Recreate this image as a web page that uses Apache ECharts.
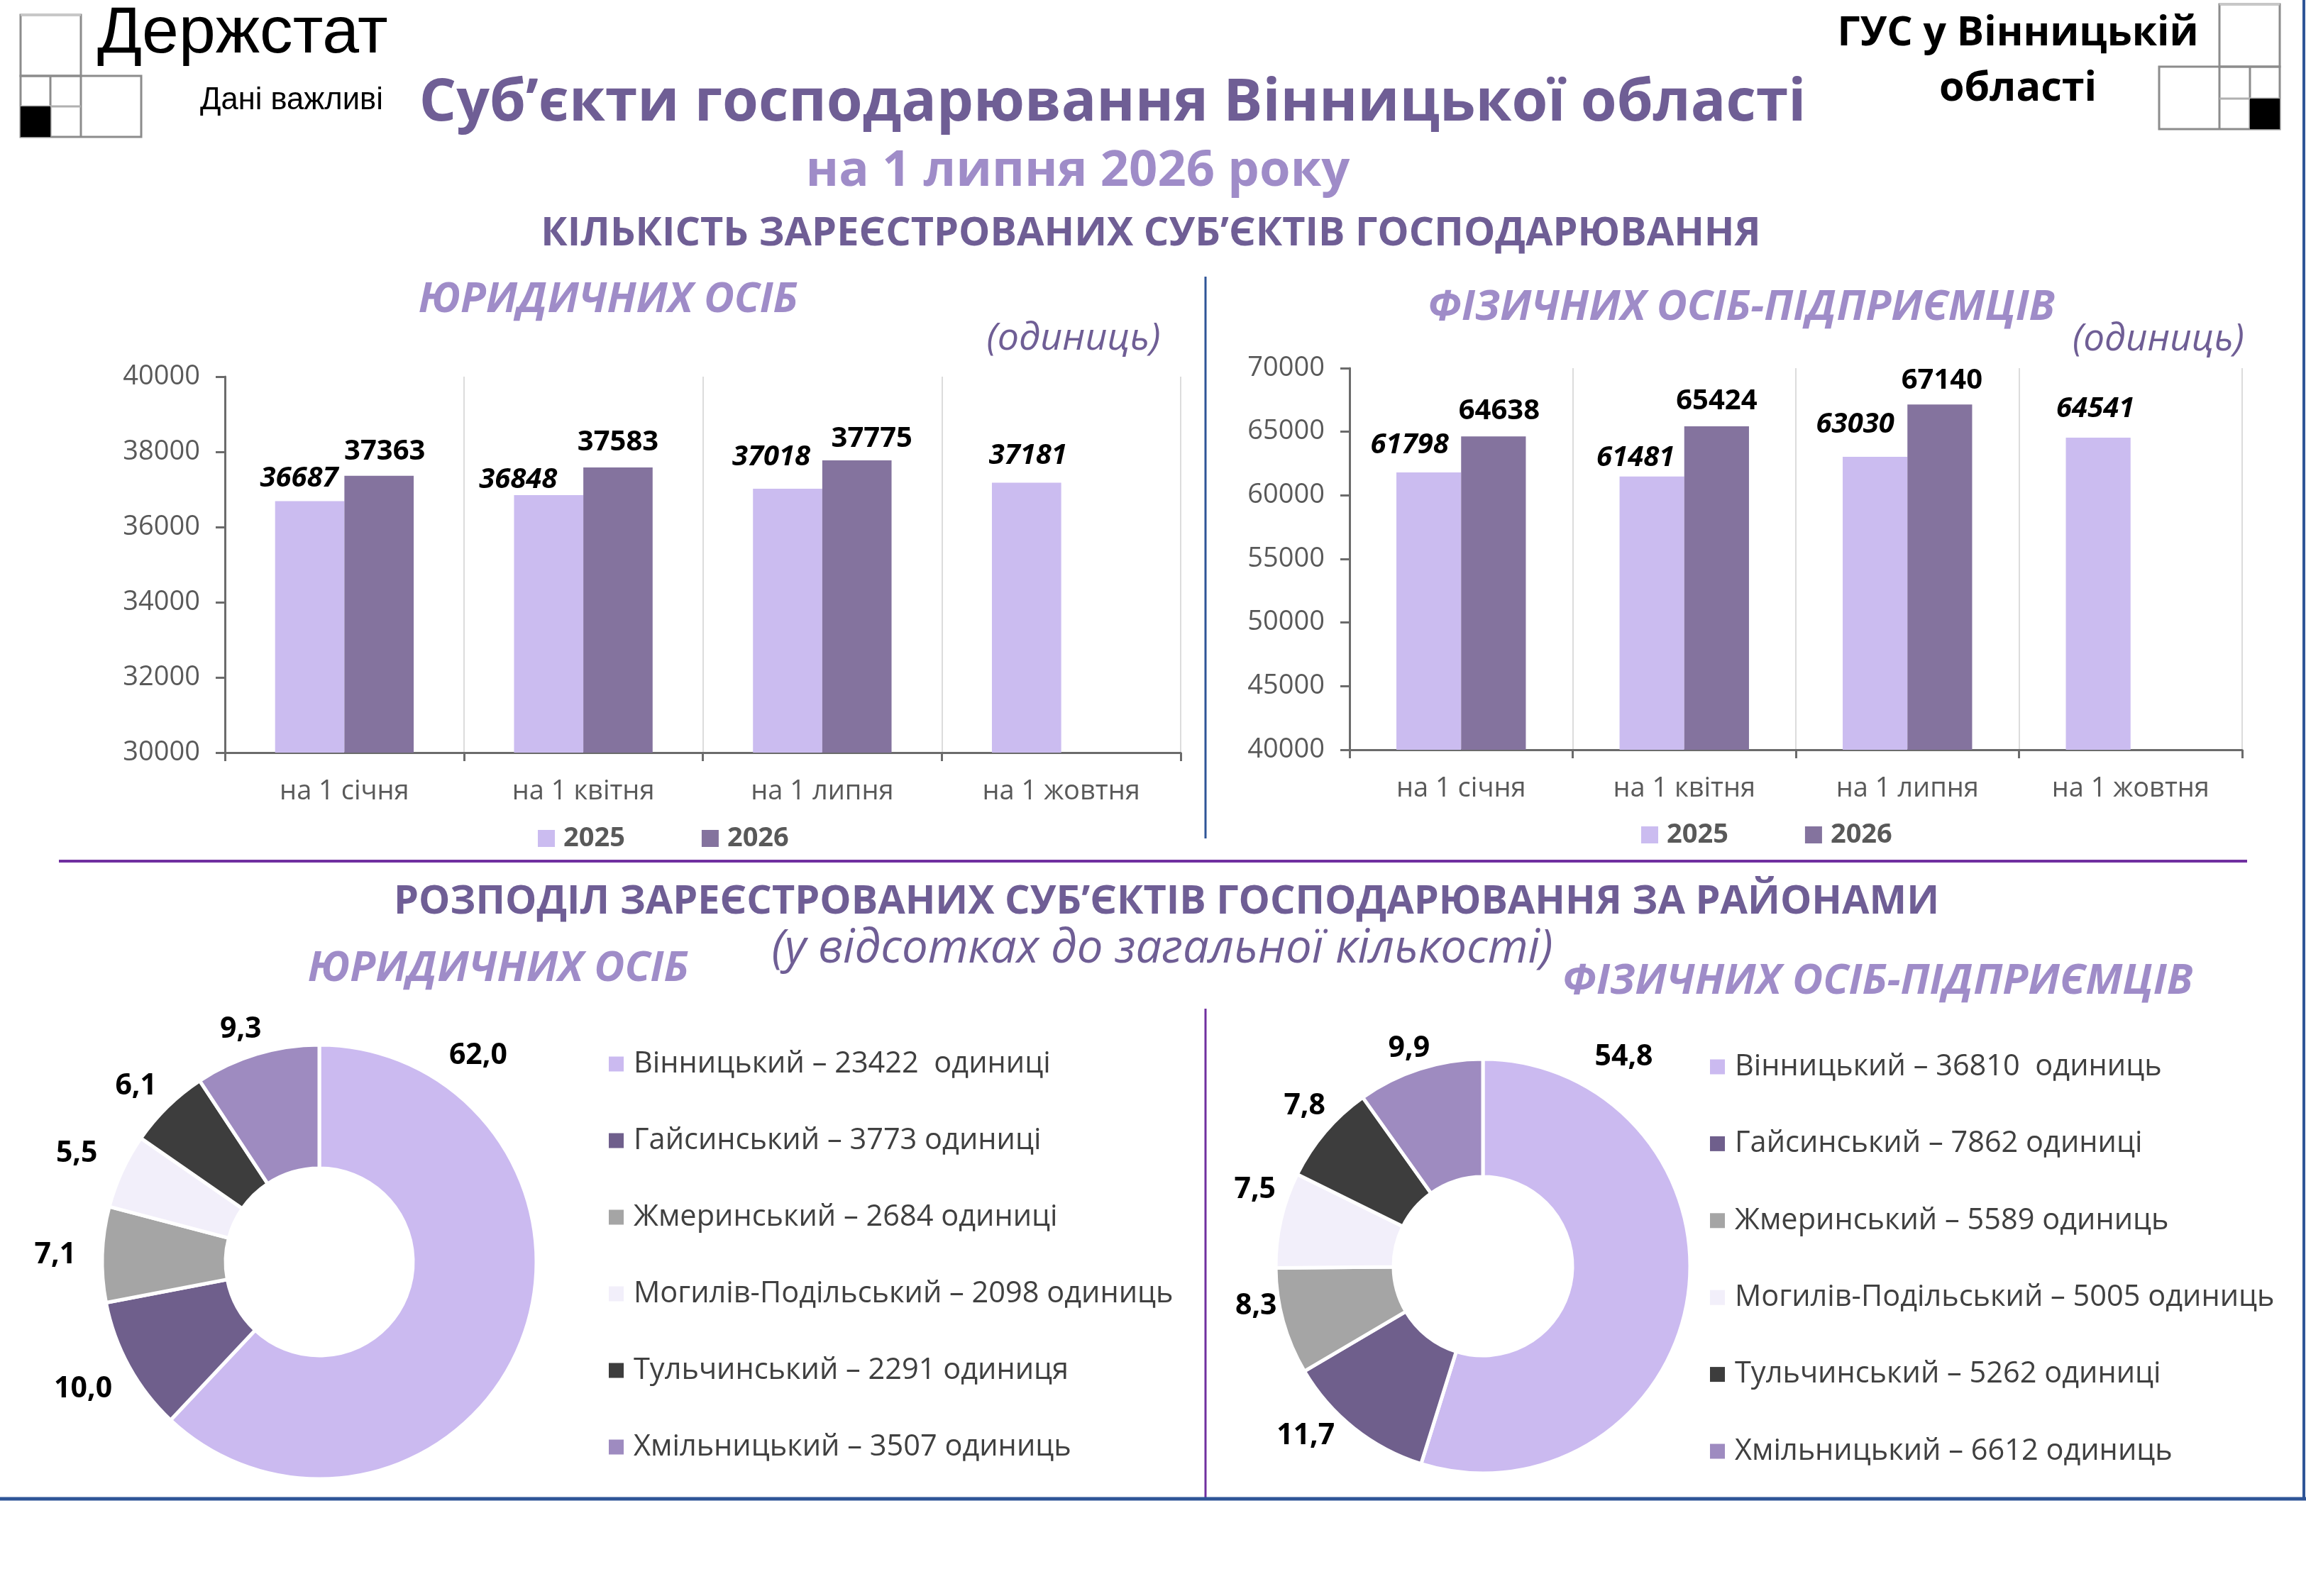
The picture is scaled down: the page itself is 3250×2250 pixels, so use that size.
<!DOCTYPE html>
<html><head><meta charset="utf-8">
<script src="https://cdn.jsdelivr.net/npm/echarts@6/dist/echarts.min.js"></script>
<style>html,body{margin:0;padding:0;background:#fff}#c{width:3250px;height:2250px}</style>
</head><body><div id="c"></div>
<script>
// ---------- DATA ----------
const categories = ['на 1 січня', 'на 1 квітня', 'на 1 липня', 'на 1 жовтня'];
const seriesNames = ['2025', '2026'];
const legal2025 = [36687, 36848, 37018, 37181];
const legal2026 = [37363, 37583, 37775, null];
const indiv2025 = [61798, 61481, 63030, 64541];
const indiv2026 = [64638, 65424, 67140, null];
const legalAxis = { min: 30000, max: 40000, interval: 2000 };
const indivAxis = { min: 40000, max: 70000, interval: 5000 };

const districts = ['Вінницький', 'Гайсинський', 'Жмеринський', 'Могилів-Подільський', 'Тульчинський', 'Хмільницький'];
const legalCounts = [23422, 3773, 2684, 2098, 2291, 3507];
const legalPct = [62.0, 10.0, 7.1, 5.5, 6.1, 9.3];
const legalUnits = ['одиниці', 'одиниці', 'одиниці', 'одиниць', 'одиниця', 'одиниць'];
const indivCounts = [36810, 7862, 5589, 5005, 5262, 6612];
const indivPct = [54.8, 11.7, 8.3, 7.5, 7.8, 9.9];
const indivUnits = ['одиниць', 'одиниці', 'одиниць', 'одиниць', 'одиниці', 'одиниць'];

// ---------- STYLE ----------
const FONT = "'Open Sans', 'Noto Sans', sans-serif";
const C_DARK = '#6f5e95', C_LIGHT = '#9f8cc8';
const C2025 = '#cbbcf0', C2026 = '#84739e';
const pieColors = ['#cbbaf0', '#6f5f8c', '#a5a5a5', '#f2effa', '#3d3d3d', '#9e8bc0'];
// manual label shifts (as in the source chart)
const shiftL25 = [[-15, 2], [-43, 13], [-23, -10], [2, -4]];
const shiftL26 = [[8, 0], [0, -1], [21, 4], [0, 0]];
const shiftI25 = [[-27, -4], [-23, 8], [-28, -11], [-4, -6]];
const shiftI26 = [[8, -2], [0, -1], [3, 0], [0, 0]];
const pieShiftL = [[0, 0], [4, 19], [-6, 2], [-6, -14], [8, -10], [19, -10]];
const pieShiftI = [[0, 0], [-6, -10], [21, -29], [23, -37], [25, -19], [27, -4]];

const mctx = document.createElement('canvas').getContext('2d');
function fit(text, weight, style, family, width) {
  mctx.font = style + ' ' + weight + ' 100px ' + family;
  return Math.round(1000 * width / mctx.measureText(text).width) / 10;
}
function txt(text, x, y, width, o) {
  o = o || {};
  const w = o.weight || 'bold', st = o.style || 'normal', fam = o.family || FONT;
  return { type: 'text', x: x, y: y, silent: true,
    style: { text: text, fill: o.color || C_DARK, fontFamily: fam, fontWeight: w, fontStyle: st,
      fontSize: fit(text, w, st, fam, width), align: o.align || 'center', verticalAlign: 'middle' } };
}
function line(x1, y1, x2, y2, color, w) {
  return { type: 'line', silent: true, shape: { x1: x1, y1: y1, x2: x2, y2: y2 }, style: { stroke: color, lineWidth: w } };
}
function rect(x, y, w, h, fill, stroke, lw) {
  return { type: 'rect', silent: true, shape: { x: x, y: y, width: w, height: h },
    style: { fill: fill || 'none', stroke: stroke || 'none', lineWidth: lw || 0 } };
}
function logo(x0, xm, x1, x2, y0, y1, ym, y2, mirror) {
  const g = '#8c8c8c';
  const els = [];
  if (!mirror) {
    els.push(rect(x0, y0, x1 - x0, y1 - y0, null, g, 3));
    els.push(line(x0, y0, x1, y0, '#c8c8c8', 3));
    els.push(rect(x0, y1, x2 - x0, y2 - y1, null, g, 3));
    els.push(line(xm, y1, xm, y2, g, 3));
    els.push(line(x1, y1, x1, y2, g, 3));
    els.push(line(x0, ym, x1, ym, '#b0b0b0', 3));
    els.push(rect(x0, ym, xm - x0, y2 - ym, '#000'));
  } else {
    els.push(rect(x1, y0, x2 - x1, y1 - y0, null, g, 3));
    els.push(line(x1, y0, x2, y0, '#c8c8c8', 3));
    els.push(rect(x0, y1, x2 - x0, y2 - y1, null, g, 3));
    els.push(line(x1, y1, x1, y2, g, 3));
    els.push(line(xm, y1, xm, y2, g, 3));
    els.push(line(x1, ym, x2, ym, '#b0b0b0', 3));
    els.push(rect(xm, ym, x2 - xm, y2 - ym, '#000'));
  }
  return els;
}
const pctFmt = v => v.toFixed(1).replace('.', ',');

function xAxis(gi) {
  return { type: 'category', gridIndex: gi, data: categories,
    axisLine: { lineStyle: { color: '#6b6b6b', width: 3 } },
    axisTick: { show: true, length: 12, lineStyle: { color: '#6b6b6b', width: 3 } },
    axisLabel: { fontSize: 38, color: '#595959', margin: 36, fontFamily: FONT },
    splitLine: { show: true, lineStyle: { color: '#dcdcdc', width: 2 } } };
}
function yAxis(gi, ax) {
  return { type: 'value', gridIndex: gi, min: ax.min, max: ax.max, interval: ax.interval,
    axisLine: { show: true, lineStyle: { color: '#6b6b6b', width: 3 } },
    axisTick: { show: true, length: 13, lineStyle: { color: '#6b6b6b', width: 3 } },
    axisLabel: { fontSize: 38, color: '#595959', margin: 35, fontFamily: FONT, formatter: v => String(v) },
    splitLine: { show: false } };
}
function bar(name, vals, gi, color, italic, shifts) {
  return { type: 'bar', name: name, xAxisIndex: gi, yAxisIndex: gi, barWidth: '29%', barGap: '0%',
    itemStyle: { color: color },
    label: { show: true, position: 'top', distance: 14, color: '#000', fontFamily: FONT, fontSize: 40,
      fontWeight: 'bold', fontStyle: italic ? 'italic' : 'normal' },
    data: vals.map((v, i) => v == null ? null : { value: v, label: { offset: shifts[i] } }) };
}
function pie(center, radius, counts, pct, lblAngle, lblDist, shifts) {
  return { type: 'pie', center: center, radius: radius, startAngle: 90, clockwise: true,
    avoidLabelOverlap: false, animation: false, emphasis: { scale: false },
    itemStyle: { borderColor: '#ffffff', borderWidth: 5 },
    label: { show: true, position: 'outside', color: '#000', fontFamily: FONT, fontSize: 41, fontWeight: 'bold',
      formatter: p => pctFmt(pct[p.dataIndex]) },
    labelLine: { show: false, length: 26, length2: 0 },
    labelLayout: function (p) {
      if (p.dataIndex !== 0) return { dx: shifts[p.dataIndex][0], dy: shifts[p.dataIndex][1] };
      const a = lblAngle * Math.PI / 180;
      return { x: center[0] + lblDist * Math.sin(a), y: center[1] - lblDist * Math.cos(a), align: 'center', verticalAlign: 'middle' };
    },
    data: districts.map((n, i) => ({ name: n, value: counts[i], itemStyle: { color: pieColors[i] } })) };
}
function pieLegend(left, top, gap, counts, units) {
  return { orient: 'vertical', left: left, top: top, itemWidth: 21, itemHeight: 21, itemGap: gap, icon: 'rect',
    data: districts, selectedMode: false,
    itemStyle: { borderWidth: 0 },
    textStyle: { fontSize: 41.5, color: '#404040', fontFamily: FONT, lineHeight: 50, padding: [0, 0, 0, 9] },
    formatter: name => { const i = districts.indexOf(name); return name + ' – ' + counts[i] + (i === 0 ? '  ' : ' ') + units[i]; } };
}
function barLegend(left, top) {
  return { left: left, top: top, itemWidth: 24, itemHeight: 24, itemGap: 108, icon: 'rect', data: seriesNames,
    selectedMode: false,
    textStyle: { fontSize: 38, fontWeight: 'bold', color: '#595959', fontFamily: FONT, padding: [0, 0, 0, 7] } };
}

const graphics = [].concat(
  logo(29, 71, 114, 199, 21, 107, 150, 193, false),
  logo(3043, 3171, 3128, 3213, 6, 94, 139, 182, true),
  [
    txt('Держстат', 137, 48, 410, { weight: 'normal', family: "'Liberation Sans', Arial, sans-serif", color: '#000', align: 'left' }),
    txt('Дані важливі', 282, 142, 258, { weight: 'normal', family: "'Liberation Sans', Arial, sans-serif", color: '#000', align: 'left' }),
    txt('Суб’єкти господарювання Вінницької області', 1568, 147, 1954, {}),
    txt('на 1 липня 2026 року', 1519, 242, 767, { color: C_LIGHT }),
    txt('КІЛЬКІСТЬ ЗАРЕЄСТРОВАНИХ СУБ’ЄКТІВ ГОСПОДАРЮВАННЯ', 1622, 330, 1718, {}),
    txt('ГУС у Вінницькій', 2844, 48, 509, { color: '#000' }),
    txt('області', 2844, 126, 222, { color: '#000' }),
    txt('ЮРИДИЧНИХ ОСІБ', 857, 423, 535, { style: 'italic', color: C_LIGHT }),
    txt('ФІЗИЧНИХ ОСІБ-ПІДПРИЄМЦІВ', 2454, 434, 885, { style: 'italic', color: C_LIGHT }),
    txt('(одиниць)', 1513, 478, 245, { weight: 'normal', style: 'italic' }),
    txt('(одиниць)', 3042, 479, 242, { weight: 'normal', style: 'italic' }),
    txt('РОЗПОДІЛ ЗАРЕЄСТРОВАНИХ СУБ’ЄКТІВ ГОСПОДАРЮВАННЯ ЗА РАЙОНАМИ', 1644, 1272, 2177, {}),
    txt('(у відсотках до загальної кількості)', 1638, 1338, 1101, { weight: 'normal', style: 'italic' }),
    txt('ЮРИДИЧНИХ ОСІБ', 702, 1366, 537, { style: 'italic', color: C_LIGHT }),
    txt('ФІЗИЧНИХ ОСІБ-ПІДПРИЄМЦІВ', 2646, 1384, 889, { style: 'italic', color: C_LIGHT }),
    line(1699, 390, 1699, 1182, '#2f5597', 3),
    line(83, 1214, 3167, 1214, '#7030a0', 4),
    line(1699, 1422, 1699, 2112, '#7030a0', 3),
    line(0, 2113, 3250, 2113, '#2f5597', 5),
    line(3247, 0, 3247, 2113, '#2f5597', 4)
  ]
);

const chart = echarts.init(document.getElementById('c'), null, { renderer: 'canvas' });
chart.setOption({
  animation: false,
  backgroundColor: '#ffffff',
  textStyle: { fontFamily: FONT },
  grid: [
    { left: 317, top: 531, width: 1347, height: 530 },
    { left: 1902, top: 519, width: 1258, height: 538 }
  ],
  xAxis: [xAxis(0), xAxis(1)],
  yAxis: [yAxis(0, legalAxis), yAxis(1, indivAxis)],
  legend: [
    barLegend(753, 1158),
    barLegend(2308, 1153),
    pieLegend(853, 1470, 58, legalCounts, legalUnits),
    pieLegend(2405, 1474, 58.4, indivCounts, indivUnits)
  ],
  series: [
    bar(seriesNames[0], legal2025, 0, C2025, true, shiftL25),
    bar(seriesNames[1], legal2026, 0, C2026, false, shiftL26),
    bar(seriesNames[0], indiv2025, 1, C2025, true, shiftI25),
    bar(seriesNames[1], indiv2026, 1, C2026, false, shiftI26),
    pie([450, 1779], [132, 306], legalCounts, legalPct, 37.6, 367, pieShiftL),
    pie([2090, 1785], [126, 292], indivCounts, indivPct, 34, 355, pieShiftI)
  ],
  graphic: graphics
});
</script>
</body></html>
